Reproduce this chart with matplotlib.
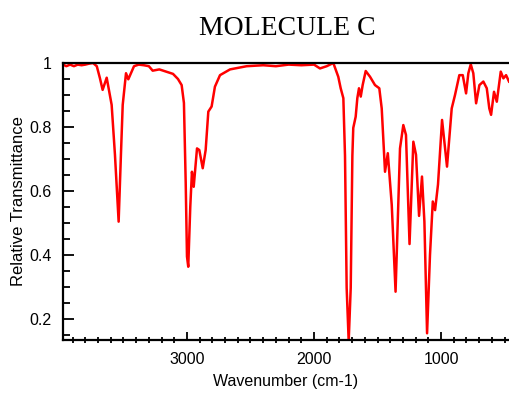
import matplotlib
matplotlib.use("Agg")
import matplotlib.pyplot as plt
from matplotlib.ticker import MultipleLocator, FixedLocator

title = "MOLECULE C"
xlabel = "Wavenumber (cm-1)"
ylabel = "Relative Transmittance"

wavenumber = [3976, 3950, 3920, 3890, 3860, 3830, 3800, 3770, 3740, 3710,
              3685, 3664, 3632, 3593, 3567, 3538, 3520, 3506, 3480, 3462,
              3417, 3380, 3340, 3300, 3270, 3218, 3110, 3071, 3042, 3024,
              3010, 3000, 2990, 2974, 2961, 2947, 2921, 2903, 2876, 2853,
              2832, 2806, 2780, 2740, 2661, 2530, 2400, 2300, 2200, 2100,
              2000, 1953, 1900, 1848, 1809, 1790, 1769, 1756, 1743, 1727,
              1711, 1698, 1691, 1672, 1659, 1646, 1632, 1617, 1593, 1559,
              1520, 1486, 1467, 1441, 1419, 1388, 1358, 1323, 1297, 1276,
              1248, 1218, 1197, 1173, 1150, 1131, 1110, 1087, 1065, 1047,
              1024, 992, 953, 916, 890, 856, 829, 803, 785, 766,
              746, 724, 698, 667, 640, 620, 606, 583, 561, 530,
              509, 488, 465]
transmittance = [0.995, 0.99, 0.995, 0.99, 0.995, 0.993, 0.995, 0.998, 1.0, 0.99,
                 0.952, 0.916, 0.954, 0.869, 0.713, 0.504, 0.713, 0.869, 0.968, 0.949,
                 0.99, 0.995, 0.993, 0.99, 0.976, 0.98, 0.966, 0.95, 0.931, 0.875,
                 0.625, 0.395, 0.363, 0.551, 0.66, 0.613, 0.733, 0.728, 0.671, 0.728,
                 0.848, 0.864, 0.926, 0.962, 0.98, 0.99, 0.993, 0.99, 0.995, 0.993,
                 0.995, 0.983, 0.99, 1.0, 0.957, 0.921, 0.89, 0.71, 0.297, 0.13,
                 0.297, 0.71, 0.797, 0.832, 0.89, 0.921, 0.895, 0.931, 0.975, 0.957,
                 0.931, 0.921, 0.858, 0.66, 0.718, 0.556, 0.285, 0.733, 0.806, 0.775,
                 0.434, 0.754, 0.713, 0.522, 0.645, 0.504, 0.155, 0.4, 0.567, 0.54,
                 0.62, 0.822, 0.676, 0.858, 0.9, 0.962, 0.962, 0.905, 0.968, 0.996,
                 0.968, 0.874, 0.931, 0.942, 0.921, 0.858, 0.838, 0.91, 0.879, 0.973,
                 0.952, 0.962, 0.942]

x_major = [3000, 2000, 1000]
x_ticklabels = ["3000", "2000", "1000"]
y_major = [0.2, 0.4, 0.6, 0.8, 1.0]
y_ticklabels = ["0.2", "0.4", "0.6", "0.8", "1"]

fig = plt.figure(figsize=(5.09, 3.95), dpi=100)
ax = fig.add_axes([63/509, 55/395, 1 - 63/509, 277/395])
ax.plot(wavenumber, transmittance, color="#ff0000", lw=1.8,
        solid_joinstyle="round")
ax.set_xlim(3976, 465)
ax.set_ylim(0.134, 1.0)

ax.xaxis.set_major_locator(FixedLocator(x_major))
ax.set_xticklabels(x_ticklabels)
ax.xaxis.set_minor_locator(MultipleLocator(100))
ax.yaxis.set_major_locator(FixedLocator(y_major))
ax.set_yticklabels(y_ticklabels)
ax.yaxis.set_minor_locator(MultipleLocator(0.05))

ax.tick_params(which="both", top=False, right=False, width=1.3, colors="black")
ax.tick_params(axis="x", which="major", direction="in", length=6,
               labelsize=11.5, pad=9)
ax.tick_params(axis="x", which="minor", direction="inout", length=4)
ax.tick_params(axis="y", which="major", direction="in", length=8,
               labelsize=11.5, pad=8)
ax.tick_params(axis="y", which="minor", direction="in", length=5)
for lab in ax.get_xticklabels() + ax.get_yticklabels():
    lab.set_family("Liberation Sans")

for s in ["left", "bottom", "top"]:
    ax.spines[s].set_linewidth(1.6)
ax.spines["right"].set_visible(False)

ax.set_xlabel(xlabel, fontsize=11.5, family="Liberation Sans", labelpad=5)
ax.set_ylabel(ylabel, fontsize=12, family="Liberation Sans")
ax.yaxis.set_label_coords(-0.083, 0.5)
fig.text(287/509, 1 - 35/395, title, ha="center", va="baseline",
         fontsize=20, family="Liberation Serif")

fig.savefig("out.png", dpi=100)
